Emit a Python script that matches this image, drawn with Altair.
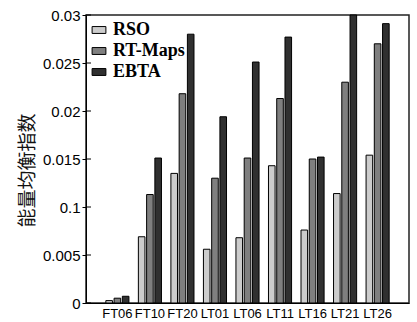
import altair as alt
import pandas as pd

categories = ["FT06", "FT10", "FT20", "LT01", "LT06", "LT11", "LT16", "LT21", "LT26"]
series = ["RSO", "RT-Maps", "EBTA"]
rso = [0.00025, 0.0069, 0.0135, 0.0056, 0.0068, 0.0143, 0.0076, 0.0114, 0.0154]
rt_maps = [0.0005, 0.0113, 0.0218, 0.0130, 0.0151, 0.0213, 0.0150, 0.0230, 0.0270]
ebta = [0.0007, 0.0151, 0.0280, 0.0194, 0.0251, 0.0277, 0.0152, 0.0310, 0.0291]
tick_values = [0, 0.005, 0.01, 0.015, 0.02, 0.025, 0.03]
tick_labels = ["0", "0.005", "0.1", "0.015", "0.02", "0.025", "0.03"]
colors = ["#cccccc", "#7f7f7f", "#303030"]

rows = []
for s, vals in zip(series, [rso, rt_maps, ebta]):
    for c, v in zip(categories, vals):
        rows.append({"cat": c, "series": s, "value": v})
df = pd.DataFrame(rows)
ticks_df = pd.DataFrame({"t": tick_values})

label_expr = "[" + ",".join("'%s'" % l for l in tick_labels) + "][round(datum.value/0.005)]"

yscale = alt.Scale(domain=[0, 0.03], clamp=True, nice=False)

bars = alt.Chart(df).mark_bar(stroke="black", strokeWidth=1).encode(
    x=alt.X("cat:N", sort=categories,
            scale=alt.Scale(paddingInner=0.29, paddingOuter=0.61),
            axis=alt.Axis(title=None, ticks=False, labelAngle=0, labelFont="Liberation Sans",
                          labelFontSize=13, labelColor="black", labelPadding=4,
                          labelOverlap=False, domainColor="black")),
    xOffset=alt.XOffset("series:N", sort=series, scale=alt.Scale(paddingInner=0.2)),
    y=alt.Y("value:Q", scale=yscale,
            axis=alt.Axis(title="能量均衡指数", values=tick_values, labelExpr=label_expr,
                          grid=False, tickSize=4, tickColor="black", domainColor="black",
                          labelFont="Liberation Sans", labelFontSize=15, labelColor="black",
                          labelPadding=2, titleFont="Noto Sans CJK SC", titleFontSize=19,
                          titleFontWeight="normal", titleColor="#111111", titlePadding=5,
                          titleY=155)),
    color=alt.Color("series:N", sort=series,
                    scale=alt.Scale(domain=series, range=colors),
                    legend=alt.Legend(title=None, orient="none", legendX=4, legendY=6,
                                      symbolType="M-1,-0.5H1V0.5H-1Z", symbolSize=190,
                                      symbolStrokeColor="black", symbolStrokeWidth=1,
                                      labelFont="Liberation Serif, Times New Roman, serif",
                                      labelFontWeight="bold",
                                      labelFontSize=18, labelColor="black", rowPadding=3,
                                      labelOffset=5)),
)

inner_ticks = alt.Chart(ticks_df).mark_rule(color="black", strokeWidth=1).encode(
    y=alt.Y("t:Q", scale=yscale),
    x=alt.value(0),
    x2=alt.value(5),
)

chart = alt.layer(bars, inner_ticks).properties(
    width=323, height=288,
    autosize=alt.AutoSizeParams(type="none"),
    padding={"left": 86, "top": 15, "right": 8, "bottom": 19},
    background="white",
).configure_view(stroke="#222222", strokeWidth=1.5)

chart.save("out.html", embed_options={"renderer": "svg", "actions": False})
